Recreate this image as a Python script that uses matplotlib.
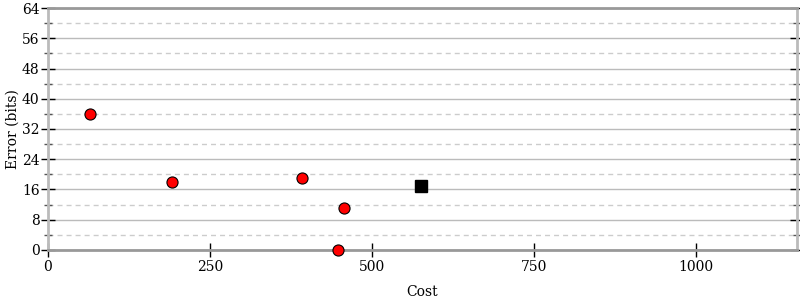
import matplotlib.pyplot as plt
from matplotlib.ticker import MultipleLocator

plt.rcParams["font.family"] = "DejaVu Serif"

# red circles
cost_pts = [65, 192, 392, 457, 448]
err_pts = [36, 18, 19, 11, 0]
# black square
cost_sq = [576]
err_sq = [17]

fig = plt.figure(figsize=(8, 3), dpi=100)
ax = fig.add_axes([0.06, 0.1667, 0.93625, 0.8066])

ax.set_xlim(0, 1156)
ax.set_ylim(0, 64)
ax.xaxis.set_major_locator(MultipleLocator(250))
ax.yaxis.set_major_locator(MultipleLocator(8))
ax.yaxis.set_minor_locator(MultipleLocator(4))

ax.grid(True, which="major", axis="y", color="#bbbbbb", linewidth=1)
ax.grid(True, which="minor", axis="y", color="#cccccc", linewidth=1,
        linestyle=(0, (3.6, 2.9)))
ax.set_axisbelow(True)

for side in ["left", "right"]:
    ax.spines[side].set_color("#bbbbbb")
    ax.spines[side].set_linewidth(2)
for side in ["top", "bottom"]:
    ax.spines[side].set_color("#999999")
    ax.spines[side].set_linewidth(2)

ax.tick_params(axis="y", which="major", direction="inout", length=10, width=1,
               color="black", left=True, right=True, labelsize=10, pad=1)
ax.tick_params(axis="y", which="minor", direction="inout", length=6, width=1,
               color="#555555", left=True, right=True)
ax.tick_params(axis="x", which="major", direction="inout", length=10, width=1,
               color="black", labelsize=10, pad=2)

ax.plot(cost_pts, err_pts, "o", color="red", markeredgecolor="black",
        markeredgewidth=0.8, markersize=8, clip_on=False, zorder=5)
ax.plot(cost_sq, err_sq, "s", color="black", markersize=8, zorder=5)

ax.set_xlabel("Cost", fontsize=10, labelpad=8)
ax.set_ylabel("Error (bits)", fontsize=10, labelpad=2)

fig.savefig("out.png", dpi=100)
